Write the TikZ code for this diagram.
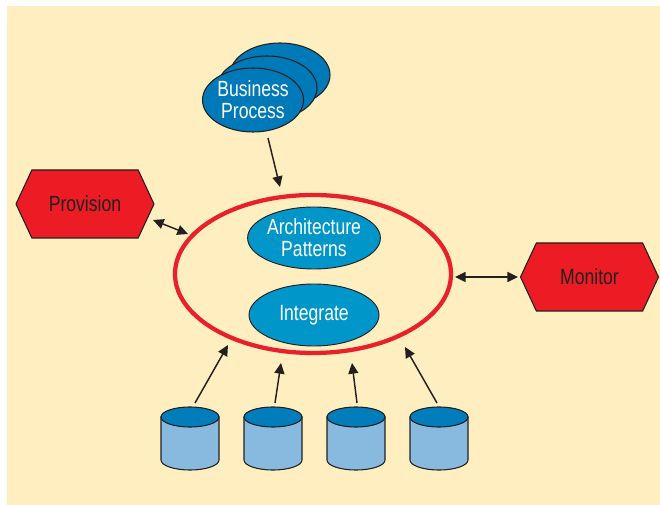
\documentclass[tikz,border=0pt]{standalone}
\usepackage{fontspec}
\setmainfont{Liberation Sans}[FakeStretch=0.8]
\usetikzlibrary{shapes.geometric,shapes.symbols,arrows.meta}
\definecolor{bg}{HTML}{FFEFC0}
\definecolor{bpblue}{HTML}{0079B8}
\definecolor{inblue}{HTML}{0096C9}
\definecolor{cyltop}{HTML}{007DBA}
\definecolor{cylbody}{HTML}{88BADF}
\definecolor{hexred}{HTML}{ED1C24}
\definecolor{ringred}{HTML}{E8202A}
\definecolor{ink}{HTML}{231F20}
\begin{document}
\begin{tikzpicture}[x=0.75pt,y=-0.75pt,
  lbl/.style={font=\fontsize{16.5pt}{16.5pt}\selectfont, align=center},
  bpell/.style={ellipse, draw=ink, line width=0.8pt, fill=bpblue, minimum width=75pt, minimum height=48pt, inner sep=0pt, text=white, lbl},
  inell/.style={ellipse, draw=ink, line width=0.7pt, fill=inblue, minimum width=97.5pt, minimum height=46.5pt, inner sep=0pt, text=white, lbl},
  ring/.style={ellipse, draw=ringred, line width=3.2pt, minimum width=207pt, minimum height=118.5pt, inner sep=0pt},
  hexbox/.style={signal, signal to=west and east, signal pointer angle=130, draw=ink, line width=0.8pt, fill=hexred, minimum width=103.5pt, minimum height=51pt, inner sep=0pt, text=ink, lbl},
  cylbody/.style={draw=ink, line width=0.8pt, fill=cylbody},
  cyltop/.style={draw=ink, line width=0.8pt, fill=cyltop},
  arr/.style={draw=ink, line width=1.1pt, -{Triangle[length=8pt,width=7.5pt]}},
  darr/.style={draw=ink, line width=1.1pt, {Triangle[length=8pt,width=7.5pt]}-{Triangle[length=8pt,width=7.5pt]}}
]
\useasboundingbox (0,0) rectangle (660,505);
\fill[bg] (7,6) rectangle (660,505);

% Business process stack
\node[bpell] (bp3) at (280,75) {};
\node[bpell] (bp2) at (267,88) {};
\node[bpell] (bp) at (253,100) {Business\\Process};

% ring and inner ellipses
\node[ring] (ring) at (313,274) {};
\node[inell] (arch) at (314,238) {Architecture\\Patterns};
\node[inell] (integ) at (314,315) {Integrate};

% hexagons
\node[hexbox] (prov) at (85,204) {Provision};
\node[hexbox] (mon) at (589.5,277) {Monitor};

% cylinders
\foreach \i/\cx in {1/190,2/273,3/356,4/439}{
  \filldraw[cylbody] (\cx-29,417) -- (\cx-29,460) arc[start angle=180,end angle=0,x radius=29,y radius=10] -- (\cx+29,417) -- cycle;
  \filldraw[cyltop] (\cx,417) ellipse[x radius=29,y radius=10];
  \coordinate (cyl\i) at (\cx,407);
}

% connector end points
\coordinate (bpA) at (268,138);
\coordinate (ringN) at (280,187);
\coordinate (provA) at (153,220);
\coordinate (ringW) at (188,234);
\coordinate (ringE) at (455,277);
\coordinate (monW) at (518,277);
\coordinate (s1) at (195,403);
\coordinate (e1) at (228,345);
\coordinate (s2) at (275,403);
\coordinate (e2) at (281,363);
\coordinate (s3) at (357,403);
\coordinate (e3) at (352,363);
\coordinate (s4) at (437,403);
\coordinate (e4) at (405,347);

\draw[arr] (bpA) -- (ringN);
\draw[darr] (provA) -- (ringW);
\draw[darr] (ringE) -- (monW);
\draw[arr] (s1) -- (e1);
\draw[arr] (s2) -- (e2);
\draw[arr] (s3) -- (e3);
\draw[arr] (s4) -- (e4);
\end{tikzpicture}
\end{document}
